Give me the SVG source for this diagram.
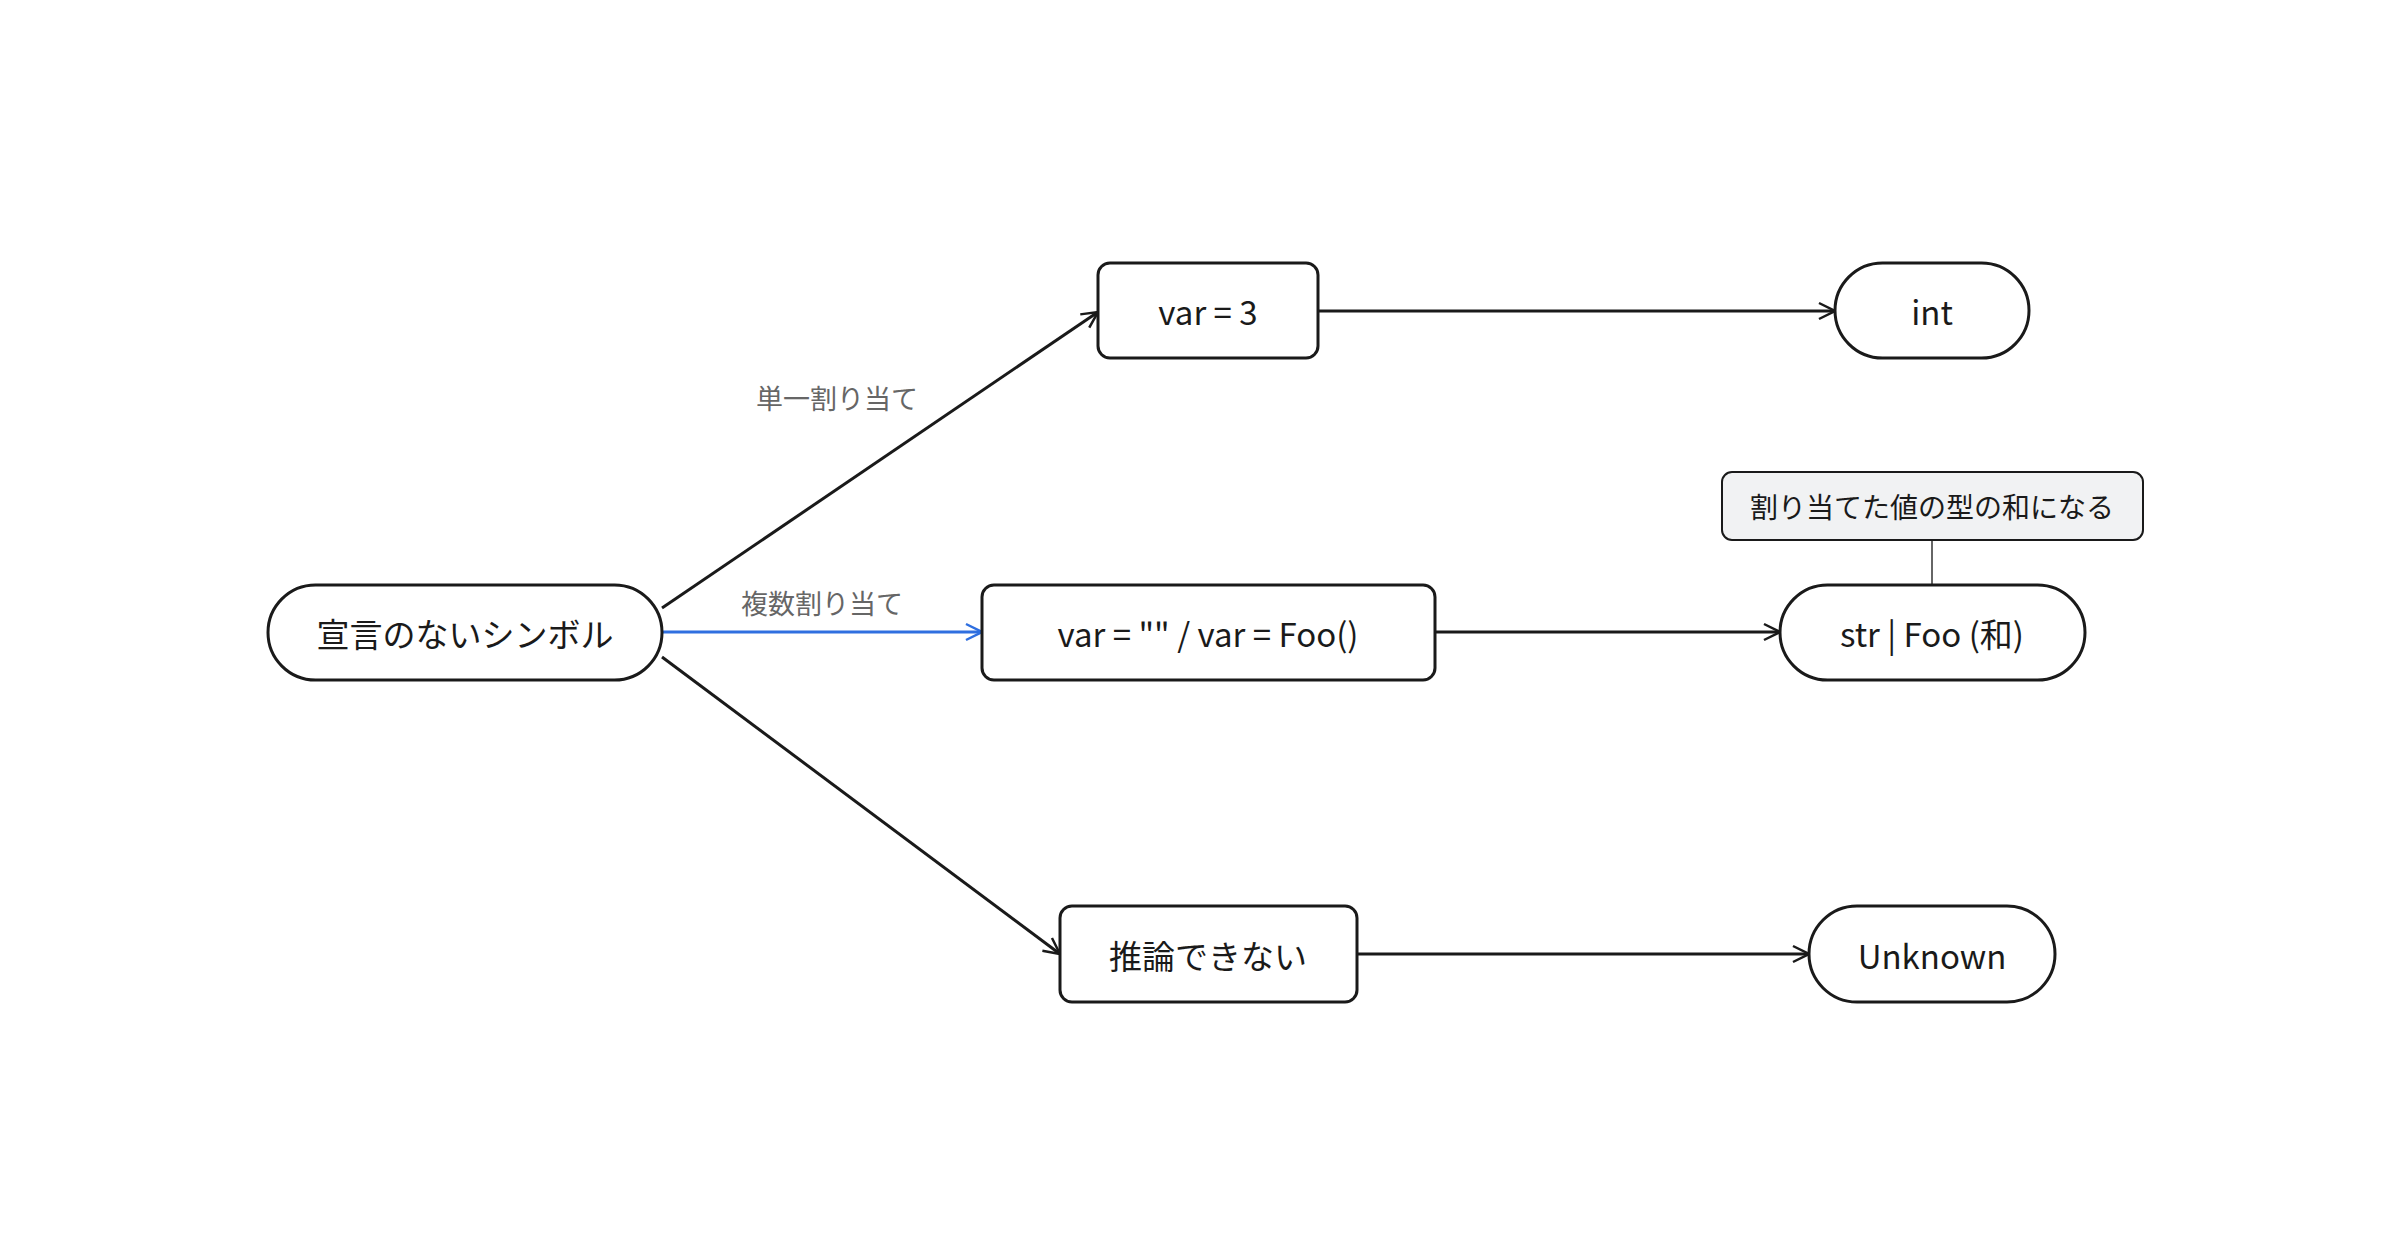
<svg xmlns="http://www.w3.org/2000/svg" width="2400" height="1260" viewBox="0 0 2400 1260">
<style>
.n{fill:#fff;stroke:#1a1a1a;stroke-width:3}
.t{font-family:"Noto Sans CJK JP","Noto Sans",sans-serif;font-size:33px;fill:#1a1a1a;text-anchor:middle;dominant-baseline:central}
.l{font-family:"Noto Sans CJK JP","Noto Sans",sans-serif;font-size:27px;fill:#666;text-anchor:middle;dominant-baseline:central}
.e{fill:none;stroke:#1a1a1a;stroke-width:3}
</style>
<defs>
<marker id="a" viewBox="0 0 20 20" refX="18" refY="10" markerWidth="20" markerHeight="20" markerUnits="userSpaceOnUse" orient="auto"><path d="M2,2 L18,10 L2,18" fill="none" stroke="#1a1a1a" stroke-width="2.5"/></marker>
<marker id="b" viewBox="0 0 20 20" refX="18" refY="10" markerWidth="20" markerHeight="20" markerUnits="userSpaceOnUse" orient="auto"><path d="M2,2 L18,10 L2,18" fill="none" stroke="#2f6fe0" stroke-width="2.5"/></marker>
</defs>
<rect width="2400" height="1260" fill="#fff"/>
<g id="edges">
<path class="e" d="M662,608 L1098,312" marker-end="url(#a)"/>
<path d="M662,632 L982,632" fill="none" stroke="#2f6fe0" stroke-width="3" marker-end="url(#b)"/>
<path class="e" d="M662,657 L1060,954" marker-end="url(#a)"/>
<path class="e" d="M1318,311 L1835,311" marker-end="url(#a)"/>
<path class="e" d="M1435,632 L1780,632" marker-end="url(#a)"/>
<path class="e" d="M1357,954 L1809,954" marker-end="url(#a)"/>
<path d="M1932,540 L1932,585" stroke="#666" stroke-width="2"/>
<text class="l" x="837" y="397">単一割り当て</text>
<text class="l" x="822" y="602">複数割り当て</text>
</g>
<g id="start"><rect class="n" x="268" y="585" width="394" height="95" rx="47.5"/><text class="t" x="465" y="633">宣言のないシンボル</text></g>
<g id="single"><rect class="n" x="1098" y="263" width="220" height="95" rx="12"/><text class="t" x="1208" y="311">var = 3</text></g>
<g id="int"><rect class="n" x="1835" y="263" width="194" height="95" rx="47.5"/><text class="t" x="1932" y="311">int</text></g>
<g id="multi"><rect class="n" x="982" y="585" width="453" height="95" rx="12"/><text class="t" x="1208" y="633">var = "" / var = Foo()</text></g>
<g id="union"><rect class="n" x="1780" y="585" width="305" height="95" rx="47.5"/><text class="t" x="1932" y="633">str | Foo (和)</text></g>
<g id="note"><rect x="1722" y="472" width="421" height="68" rx="10" fill="#f1f2f3" stroke="#1a1a1a" stroke-width="2"/><text class="t" x="1932" y="506" style="font-size:28px">割り当てた値の型の和になる</text></g>
<g id="none"><rect class="n" x="1060" y="906" width="297" height="96" rx="12"/><text class="t" x="1208" y="955">推論できない</text></g>
<g id="unknown"><rect class="n" x="1809" y="906" width="246" height="96" rx="48"/><text class="t" x="1932" y="955">Unknown</text></g>
</svg>
